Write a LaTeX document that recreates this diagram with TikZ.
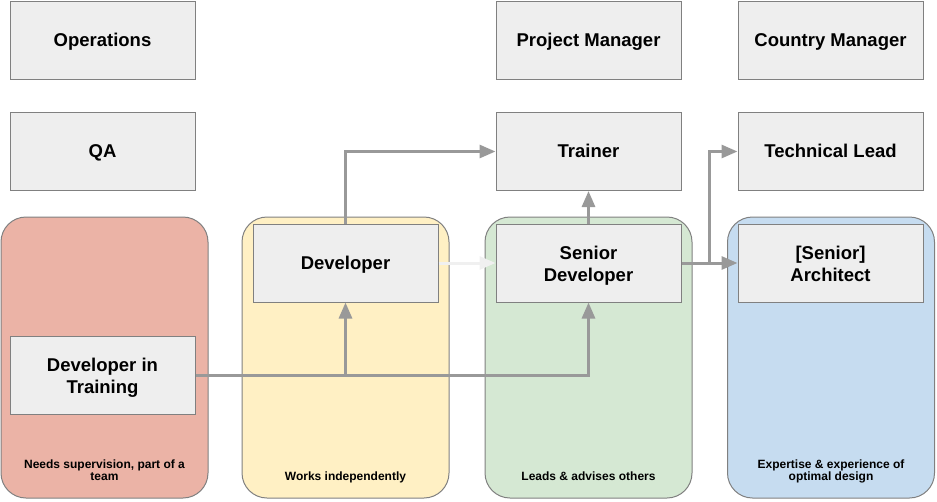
\documentclass[tikz,border=0pt]{standalone}
\usepackage{fontspec}
\setmainfont{Liberation Sans}
\usetikzlibrary{arrows.meta}
\definecolor{boxfill}{HTML}{EEEEEE}
\definecolor{boxline}{HTML}{808080}
\definecolor{arrcol}{HTML}{999999}
\definecolor{arrlight}{HTML}{F0F0F0}
\definecolor{redfill}{HTML}{EBB3A6}
\definecolor{yelfill}{HTML}{FFF0C4}
\definecolor{grnfill}{HTML}{D5E8D3}
\definecolor{blufill}{HTML}{C6DCF0}
\newcommand\twolines[2]{\raisebox{-3.3pt}[\height][\depth]{\begin{tabular}{@{}c@{}}#1\\#2\end{tabular}}}
\newcommand\lanetwo[2]{\begin{tabular}[b]{@{}c@{}}#1\\#2\end{tabular}}
\tikzset{
  boxbase/.style={draw=boxline, line width=1pt, fill=boxfill, minimum width=185pt, minimum height=78pt,
    font=\fontsize{18.5}{22}\selectfont\bfseries, inner sep=0pt},
  box/.style={boxbase, execute at begin node={\rule{0pt}{16.7pt}}, execute at end node={\rule[-3.9pt]{0pt}{0pt}}},
  box2/.style={boxbase},
  lane/.style={draw=boxline, line width=1pt, rounded corners=25pt, minimum width=207pt, minimum height=281pt, inner sep=0pt},
  lanelabel/.style={anchor=base, font=\fontsize{12}{12.4}\selectfont\bfseries, inner sep=0pt},
  arr/.style={draw=arrcol, line width=3pt, -{Triangle[length=16pt,width=13pt]}},
  arrl/.style={draw=arrlight, line width=3pt, -{Triangle[length=16pt,width=13pt]}}
}
\begin{document}
\begin{tikzpicture}[x=1pt,y=-1pt]
\useasboundingbox (0,0) rectangle (937,501);
% lanes
\node[lane, fill=redfill] (lred) at (104.5,357.5) {};
\node[lane, fill=yelfill] (lyel) at (345.5,357.5) {};
\node[lane, fill=grnfill] (lgrn) at (588.5,357.5) {};
\node[lane, fill=blufill] (lblu) at (831,357.5) {};
\node[lanelabel] (t1) at (104.5,480.7) {\lanetwo{Needs supervision, part of a}{team}};
\node[lanelabel] (t2) at (345.5,480.7) {Works independently};
\node[lanelabel] (t3) at (588.5,480.7) {Leads \& advises others};
\node[lanelabel] (t4) at (831,480.7) {\lanetwo{Expertise \& experience of}{optimal design}};
% boxes
\node[box] (ops) at (102.5,40) {Operations};
\node[box] (pm) at (588.5,40) {Project Manager};
\node[box] (cm) at (830.5,40) {Country Manager};
\node[box] (qa) at (102.5,151.5) {QA};
\node[box] (trainer) at (588.5,151.5) {Trainer};
\node[box] (tlead) at (830.5,151.5) {Technical Lead};
\node[box] (dev) at (345.5,263) {Developer};
\node[box2] (sdev) at (588.5,263) {\twolines{Senior}{Developer}};
\node[box2] (arch) at (830.5,263) {\twolines{[Senior]}{Architect}};
\node[box2] (dtr) at (102.5,375) {\twolines{Developer in}{Training}};
% connectors
\draw[arr] (dev.north) |- (trainer.west);
\draw[arrl] (dev.east) -- (sdev.west);
\draw[arr] (dtr.east) -| (sdev.south);
\draw[arr] (dtr.east -| dev.south) -- (dev.south);
\draw[arr] (sdev.north) -- (trainer.south);
\draw[arr] (sdev.east) -- (arch.west);
\coordinate (j) at (709,263);
\draw[arr] (j) |- (tlead.west);
\end{tikzpicture}
\end{document}
